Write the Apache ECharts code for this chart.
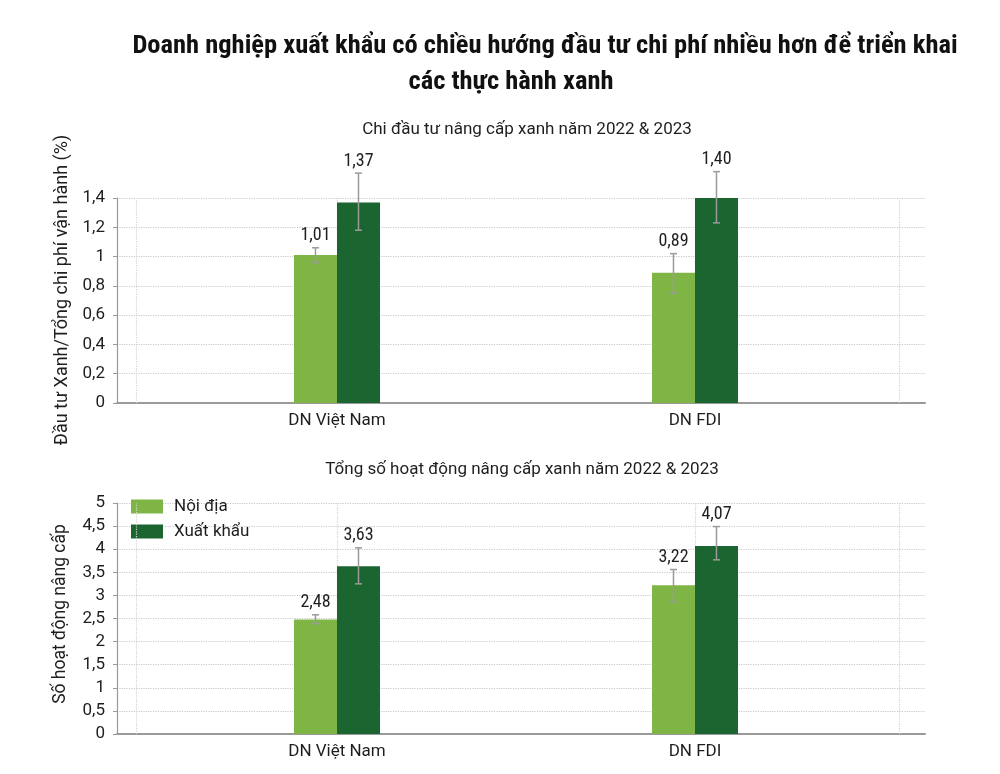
<!DOCTYPE html>
<html><head><meta charset="utf-8">
<script src="https://cdn.jsdelivr.net/npm/echarts@6/dist/echarts.min.js"></script>
<style>html,body{margin:0;padding:0;background:#fff}#c{width:1000px;height:774px}</style>
</head><body><div id="c"></div>
<script>
// ---------- DATA ----------
const categories = ['DN Việt Nam', 'DN FDI'];
const catPos = [1, 2];
const seriesNames = ['Nội địa', 'Xuất khẩu'];

// Chart 1: Chi đầu tư nâng cấp xanh (%)
const invNoiDia = [1.01, 0.89];
const invXuatKhau = [1.37, 1.40];
const invNoiDiaLow = [0.96, 0.75];
const invNoiDiaHigh = [1.06, 1.02];
const invXuatKhauLow = [1.18, 1.23];
const invXuatKhauHigh = [1.57, 1.58];

// Chart 2: Tổng số hoạt động nâng cấp xanh
const actNoiDia = [2.48, 3.22];
const actXuatKhau = [3.63, 4.07];
const actNoiDiaLow = [2.39, 2.86];
const actNoiDiaHigh = [2.58, 3.56];
const actXuatKhauLow = [3.25, 3.77];
const actXuatKhauHigh = [4.03, 4.49];

// Axis ticks
const invAxis = { min: 0, max: 1.4, interval: 0.2 };
const actAxis = { min: 0, max: 5, interval: 0.5 };

// ---------- RENDER ----------
const FONT_C = "'Roboto Condensed','Liberation Sans Narrow',Roboto,sans-serif";
const FONT = "Roboto,'Liberation Sans',sans-serif";
const TXT = '#1e1e1e';
const LIGHT = '#7fb545';
const DARK = '#1b6531';
const BW = 43;

const comma = v => String(+(+v).toFixed(2)).replace('.', ',');
const comma2 = v => (+v).toFixed(2).replace('.', ',');

function pairs(vals) { return vals.map((v, i) => [catPos[i], v]); }
function errData(lo, hi, vals) { return vals.map((v, i) => [catPos[i], lo[i], hi[i], v]); }

function errRender(offset) {
  return function (params, api) {
    const x = api.value(0), lo = api.value(1), hi = api.value(2), v = api.value(3);
    const pLo = api.coord([x, lo]);
    const pHi = api.coord([x, hi]);
    const cx = pLo[0] + offset;
    const cap = 3.5;
    const st = { stroke: '#9b9b9b', lineWidth: 1.5 };
    return {
      type: 'group',
      children: [
        { type: 'line', shape: { x1: cx, y1: pLo[1], x2: cx, y2: pHi[1] }, style: st },
        { type: 'line', shape: { x1: cx - cap, y1: pHi[1], x2: cx + cap, y2: pHi[1] }, style: st },
        { type: 'line', shape: { x1: cx - cap, y1: pLo[1], x2: cx + cap, y2: pLo[1] }, style: st },
        { type: 'text', x: cx, y: pHi[1] - 3,
          style: { text: comma2(v), align: 'center', verticalAlign: 'bottom',
                   fontSize: 18, fontFamily: FONT_C, fill: TXT } }
      ]
    };
  };
}

const X_MIN = 0.3855, X_MAX = 2.6425;
function xAxisFor(gridIndex) {
  return {
    type: 'value', gridIndex, min: X_MIN, max: X_MAX,
    axisLine: { show: true, onZero: false, lineStyle: { color: '#9a9a9a', width: 2 } },
    axisTick: { show: false },
    splitLine: { show: false },
    axisLabel: {
      customValues: catPos,
      formatter: v => categories[catPos.indexOf(Math.round(v))] || '',
      fontSize: 17, fontFamily: FONT, color: TXT, margin: 9
    }
  };
}
function yAxisFor(gridIndex, ax) {
  return {
    type: 'value', gridIndex, min: ax.min, max: ax.max, interval: ax.interval,
    axisLine: { show: true, lineStyle: { color: '#9a9a9a', width: 1.2 } },
    axisTick: { show: true, length: 4, lineStyle: { color: '#9a9a9a' } },
    splitLine: { show: true, lineStyle: { type: 'dotted', color: '#c8c8c8', width: 1.2 } },
    axisLabel: { formatter: comma, fontSize: 17, fontFamily: FONT, color: TXT, margin: 12 }
  };
}
function guides(xi, yi) {
  return {
    type: 'line', name: 'guides' + xi, xAxisIndex: xi, yAxisIndex: yi, data: [], z: 1,
    markLine: {
      silent: true, symbol: 'none', label: { show: false },
      lineStyle: { type: 'dotted', color: '#d4d4d4', width: 1.2 },
      emphasis: { disabled: true },
      data: [{ xAxis: 0.436 }, { xAxis: 1 }, { xAxis: 2 }, { xAxis: 2.567 }]
    }
  };
}
function bar(name, vals, color, xi) {
  return {
    type: 'bar', name, xAxisIndex: xi, yAxisIndex: xi, data: pairs(vals),
    barWidth: BW, barGap: '0%', z: 10,
    itemStyle: { color }
  };
}
function err(name, lo, hi, vals, offset, xi) {
  return {
    type: 'custom', name, xAxisIndex: xi, yAxisIndex: xi, z: 12,
    renderItem: errRender(offset), data: errData(lo, hi, vals),
    encode: { x: 0, y: [1, 2] }, silent: true
  };
}

const chart = echarts.init(document.getElementById('c'), null, { renderer: 'canvas' });
chart.setOption({
  backgroundColor: '#ffffff',
  animation: false,
  title: [
    { text: 'Doanh nghiệp xuất khẩu có chiều hướng đầu tư chi phí nhiều hơn để triển khai',
      left: 545, top: 33, textAlign: 'center', padding: 0,
      textStyle: { fontSize: 26.5, fontWeight: 'bold', fontFamily: FONT_C, color: '#111' } },
    { text: 'các thực hành xanh',
      left: 511, top: 69, textAlign: 'center', padding: 0,
      textStyle: { fontSize: 26.5, fontWeight: 'bold', fontFamily: FONT_C, color: '#111' } },
    { text: 'Chi đầu tư nâng cấp xanh năm 2022 & 2023',
      left: 527, top: 121, textAlign: 'center', padding: 0,
      textStyle: { fontSize: 17, fontWeight: 'normal', fontFamily: FONT, color: TXT } },
    { text: 'Tổng số hoạt động nâng cấp xanh năm 2022 & 2023',
      left: 522, top: 461, textAlign: 'center', padding: 0,
      textStyle: { fontSize: 17, fontWeight: 'normal', fontFamily: FONT, color: TXT } }
  ],
  legend: {
    data: seriesNames, orient: 'vertical', left: 131, top: 498, padding: 0,
    itemWidth: 32, itemHeight: 14, itemGap: 8, icon: 'rect',
    textStyle: { fontSize: 17, fontFamily: FONT, color: TXT, padding: [0, 0, 0, 6] }
  },
  graphic: [
    { type: 'text', x: 62, y: 290, rotation: Math.PI / 2,
      style: { text: 'Đầu tư Xanh/Tổng chi phí vận hành (%)', align: 'center', verticalAlign: 'middle',
               fontSize: 18, fontFamily: FONT, fill: TXT } },
    { type: 'text', x: 61, y: 614, rotation: Math.PI / 2,
      style: { text: 'Số hoạt động nâng cấp', align: 'center', verticalAlign: 'middle',
               fontSize: 17.5, fontFamily: FONT, fill: TXT } }
  ],
  grid: [
    { left: 117, right: 75, top: 198, height: 205 },
    { left: 117, right: 75, top: 503, height: 231 }
  ],
  xAxis: [xAxisFor(0), xAxisFor(1)],
  yAxis: [yAxisFor(0, invAxis), yAxisFor(1, actAxis)],
  series: [
    guides(0, 0), guides(1, 1),
    bar(seriesNames[0], invNoiDia, LIGHT, 0),
    bar(seriesNames[1], invXuatKhau, DARK, 0),
    bar(seriesNames[0], actNoiDia, LIGHT, 1),
    bar(seriesNames[1], actXuatKhau, DARK, 1),
    err('e1', invNoiDiaLow, invNoiDiaHigh, invNoiDia, -BW / 2, 0),
    err('e2', invXuatKhauLow, invXuatKhauHigh, invXuatKhau, BW / 2, 0),
    err('e3', actNoiDiaLow, actNoiDiaHigh, actNoiDia, -BW / 2, 1),
    err('e4', actXuatKhauLow, actXuatKhauHigh, actXuatKhau, BW / 2, 1)
  ]
});
</script></body></html>
